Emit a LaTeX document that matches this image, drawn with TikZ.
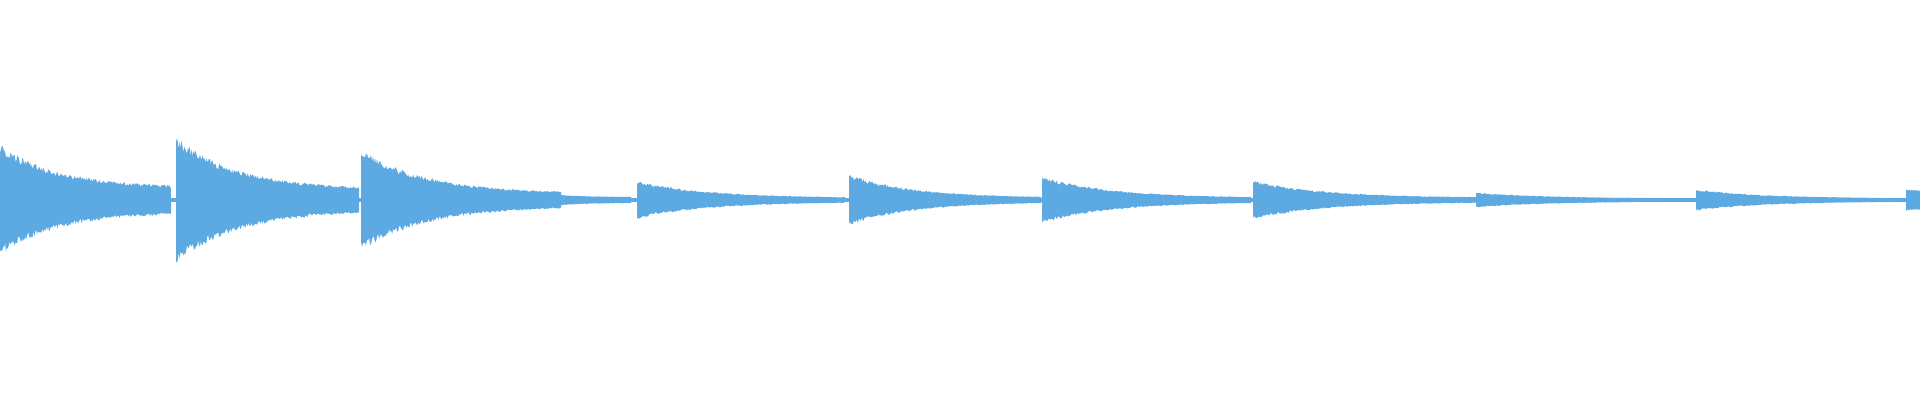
\documentclass[tikz,border=0pt]{standalone}
\definecolor{wave}{RGB}{93,170,226}
\newcommand\wseg[4]{%
  \fill[wave] plot[domain=#1:#2,samples=200] (\x,{200-(#4+(#3-#4)*exp(-3*(\x-#1)/(#2-#1)))*(0.88+0.2*rnd)})
    -- plot[domain=#2:#1,samples=200] (\x,{200+(#4+(#3-#4)*exp(-3*(\x-#1)/(#2-#1)))*(0.88+0.2*rnd)}) -- cycle;}
\begin{document}
\begin{tikzpicture}[x=0.01cm,y=-0.01cm]
\useasboundingbox (0,0) rectangle (1920,400);
\pgfmathsetseed{7}
\draw[wave,line width=0.04cm] (0,200) -- (1920,200);
\wseg{0}{171}{52}{12}
\wseg{176}{359}{60}{10}
\wseg{361}{561}{47}{6}
\wseg{561}{631}{5}{3}
\wseg{637}{845}{18}{2}
\wseg{849}{1041}{24}{2}
\wseg{1042}{1251}{22}{2}
\wseg{1253}{1476}{18}{2}
\wseg{1476}{1696}{7}{1.5}
\wseg{1696}{1906}{10}{1.5}
\wseg{1906}{1920}{10}{9}
\end{tikzpicture}
\end{document}
